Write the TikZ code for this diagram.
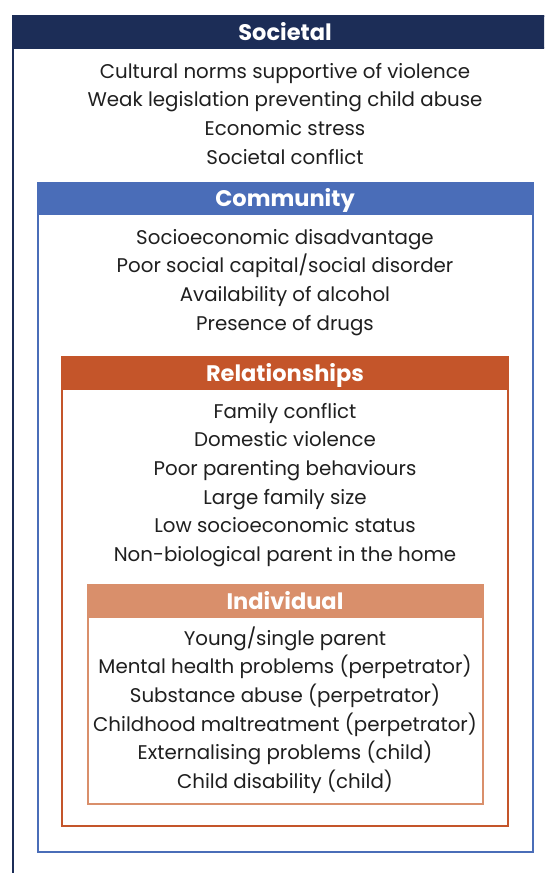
\documentclass[tikz,border=0pt]{standalone}
\usepackage{fontspec}
\setmainfont{Poppins}
\definecolor{socC}{HTML}{1C2D57}
\definecolor{comC}{HTML}{4A6DB8}
\definecolor{relC}{HTML}{C4552A}
\definecolor{indC}{HTML}{D98F6B}
\tikzset{
  itemtxt/.style={anchor=base, inner sep=0pt, font=\fontsize{19.8}{22}\selectfont, text=black!88},
  headtxt/.style={anchor=base, inner sep=0pt, font=\fontsize{22.5}{25}\selectfont\bfseries, text=white},
  levelbox/.style={draw=#1, line width=2pt, fill=white},
  levelband/.style={fill=#1, draw=#1, line width=2pt}
}
\begin{document}
\begin{tikzpicture}[x=1pt,y=-1pt]
\useasboundingbox (0,0) rectangle (544,873);
\clip (0,0) rectangle (544,873);
% Societal
\draw[levelbox=socC] (12.5,15.5) rectangle (558,900);
\draw[levelband=socC] (12.5,15.5) rectangle (558,48);
\node[headtxt] (hsoc) at (285,40) {Societal};
\foreach \t [count=\i] in {Cultural norms supportive of violence,Weak legislation preventing child abuse,Economic stress,Societal conflict}
  \node[itemtxt] (soc\i) at (285,{78.3+28.6*(\i-1)}) {\t};
% Community
\draw[levelbox=comC] (37.5,182.5) rectangle (532.5,852);
\draw[levelband=comC] (37.5,182.5) rectangle (532.5,214);
\node[headtxt] (hcom) at (285,206) {Community};
\foreach \t [count=\i] in {Socioeconomic disadvantage,Poor social capital/social disorder,Availability of alcohol,Presence of drugs}
  \node[itemtxt] (com\i) at (285,{244.3+28.6*(\i-1)}) {\t};
% Relationships
\draw[levelbox=relC] (62,356.5) rectangle (508,826);
\draw[levelband=relC] (62,356.5) rectangle (508,389);
\node[headtxt] (hrel) at (285,381) {Relationships};
\foreach \t [count=\i] in {Family conflict,Domestic violence,Poor parenting behaviours,Large family size,Low socioeconomic status,Non-biological parent in the home}
  \node[itemtxt] (rel\i) at (285,{418.3+28.6*(\i-1)}) {\t};
% Individual
\draw[levelbox=indC] (87.5,584.5) rectangle (483,803.5);
\draw[levelband=indC] (87.5,584.5) rectangle (483,617);
\node[headtxt] (hind) at (285,609) {Individual};
\foreach \t [count=\i] in {Young/single parent,Mental health problems (perpetrator),Substance abuse (perpetrator),Childhood maltreatment (perpetrator),Externalising problems (child),Child disability (child)}
  \node[itemtxt] (ind\i) at (285,{645.3+28.6*(\i-1)}) {\t};
\end{tikzpicture}
\end{document}
